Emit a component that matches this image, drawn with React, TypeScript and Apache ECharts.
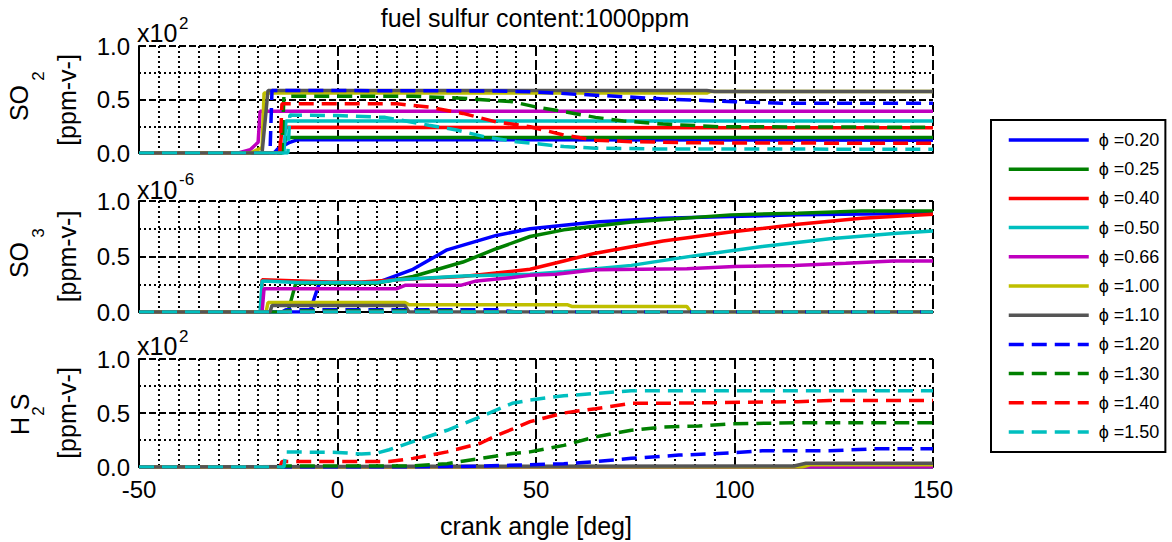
import React, { useEffect, useRef } from 'react';
import * as echarts from 'echarts';

const PHI_NAMES = ['ϕ =0.20', 'ϕ =0.25', 'ϕ =0.40', 'ϕ =0.50', 'ϕ =0.66', 'ϕ =1.00', 'ϕ =1.10', 'ϕ =1.20', 'ϕ =1.30', 'ϕ =1.40', 'ϕ =1.50'];
const X_RANGE = [-50, 150];
const X_STEP = 50;
const Y_RANGE = [0, 1];
const Y_STEP = 0.5;
const TITLE = 'fuel sulfur content:1000ppm';
const X_NAME = 'crank angle [deg]';

// ---- SO2 panel (x10^2 ppm-v) ----
const SO2_P020 = [[-50, 0], [-16, 0], [-15, 0.04], [-12, 0.1], [-10, 0.125], [150, 0.12]];
const SO2_P025 = [[-50, 0], [-14, 0], [-13, 0.145], [150, 0.145]];
const SO2_P040 = [[-50, 0], [-14.5, 0], [-14, 0.24], [150, 0.235]];
const SO2_P050 = [[-50, 0], [-13.5, 0], [-13, 0.3], [150, 0.3]];
const SO2_P066 = [[-50, 0], [-25, 0], [-22, 0.03], [-20, 0.1], [-19.5, 0.39], [150, 0.39]];
const SO2_P100 = [[-50, 0], [-22, 0], [-19, 0.05], [-18.5, 0.56], [93, 0.56], [94, 0.575], [150, 0.575]];
const SO2_P110 = [[-50, 0], [-19, 0], [-17.5, 0.585], [93, 0.585], [95, 0.575], [150, 0.575]];
const SO2_P120 = [[-50, 0], [-17, 0], [-16.5, 0.585], [40, 0.58], [50, 0.57], [60, 0.55], [70, 0.53], [85, 0.5], [100, 0.48], [112, 0.465], [150, 0.465]];
const SO2_P130 = [[-50, 0], [-14, 0], [-13.5, 0.53], [19, 0.53], [30, 0.515], [44, 0.48], [50, 0.43], [55, 0.4], [65, 0.333], [72, 0.3], [82, 0.27], [96, 0.246], [150, 0.24]];
const SO2_P140 = [[-50, 0], [-14.5, 0], [-14, 0.46], [15, 0.46], [23, 0.43], [31.6, 0.37], [40, 0.29], [48.5, 0.246], [57, 0.168], [65, 0.12], [74, 0.106], [90, 0.095], [150, 0.09]];
const SO2_P150 = [[-50, 0], [-12.5, 0], [-12, 0.355], [0, 0.35], [12, 0.333], [23, 0.26], [30, 0.215], [37, 0.152], [45, 0.106], [57, 0.06], [65, 0.045], [80, 0.038], [150, 0.035]];

// ---- SO3 panel (x10^-6 ppm-v) ----
const SO3_P020 = [[-50, 0], [-7, 0], [-4.5, 0.27], [0, 0.26], [10, 0.265], [19, 0.385], [27.6, 0.56], [40, 0.69], [48.5, 0.75], [65, 0.81], [82, 0.845], [99, 0.86], [116, 0.875], [150, 0.89]];
const SO3_P025 = [[-50, 0], [-12.5, 0], [-10.5, 0.26], [10, 0.26], [19, 0.32], [31.6, 0.45], [40, 0.57], [48.5, 0.68], [57, 0.74], [74, 0.81], [99, 0.875], [116, 0.89], [132, 0.91], [150, 0.91]];
const SO3_P040 = [[-50, 0], [-19.2, 0], [-19, 0.29], [-2, 0.27], [6, 0.27], [15, 0.29], [31.6, 0.32], [48.5, 0.385], [57, 0.46], [65, 0.53], [82, 0.64], [99, 0.72], [116, 0.79], [132, 0.845], [150, 0.88]];
const SO3_P050 = [[-50, 0], [-19.5, 0], [-19, 0.28], [-10, 0.265], [10, 0.265], [15, 0.29], [31.6, 0.325], [48.5, 0.34], [57, 0.363], [74, 0.42], [90.6, 0.51], [107, 0.59], [124, 0.66], [141, 0.71], [150, 0.73]];
const SO3_P066 = [[-50, 0], [-19, 0], [-18.5, 0.21], [15, 0.21], [17, 0.24], [31, 0.24], [35, 0.28], [44, 0.31], [48.5, 0.33], [55, 0.34], [65, 0.38], [88, 0.39], [100, 0.41], [115, 0.42], [128, 0.44], [140, 0.46], [150, 0.46]];
const SO3_P100 = [[-50, 0], [-18, 0], [-17.5, 0.085], [17, 0.085], [18, 0.065], [58, 0.065], [59, 0.05], [88, 0.05], [89, 0], [150, 0]];
const SO3_P110 = [[-50, 0], [-17, 0], [-16.5, 0.058], [17, 0.058], [18, 0], [150, 0]];
const SO3_P120 = [[-50, 0], [-14, 0], [-13, 0.02], [40, 0.02], [45, 0], [150, 0]];
const SO3_P130 = [[-50, 0], [-14, 0], [-13, 0.008], [30, 0.008], [35, 0], [150, 0]];
const SO3_P140 = [[-50, 0], [150, 0]];
const SO3_P150 = [[-50, 0], [150, 0]];

// ---- H2S panel (x10^2 ppm-v) ----
const H2S_P020 = [[-50, 0], [150, 0]];
const H2S_P025 = [[-50, 0], [150, 0]];
const H2S_P040 = [[-50, 0], [150, 0]];
const H2S_P050 = [[-50, 0], [150, 0]];
const H2S_P066 = [[-50, 0], [150, 0]];
const H2S_P100 = [[-50, 0], [117, 0], [119, 0.02], [150, 0.02]];
const H2S_P110 = [[-50, 0], [20, 0.006], [115, 0.01], [118, 0.035], [150, 0.035]];
const H2S_P120 = [[-50, 0], [19, 0], [31.6, 0.005], [48.5, 0.02], [57, 0.03], [65, 0.05], [74, 0.08], [86, 0.11], [99, 0.13], [107, 0.15], [124, 0.15], [136, 0.17], [150, 0.17]];
const H2S_P130 = [[-50, 0], [-14, 0], [-13, 0.01], [19, 0.01], [27.6, 0.03], [36, 0.08], [44, 0.125], [48.5, 0.14], [57, 0.2], [65, 0.28], [74, 0.34], [82, 0.37], [91, 0.38], [99, 0.4], [116, 0.41], [150, 0.41]];
const H2S_P140 = [[-50, 0], [-14.5, 0], [-14, 0.05], [13, 0.05], [19, 0.08], [27.6, 0.14], [36, 0.22], [40, 0.29], [44, 0.35], [48.5, 0.42], [57, 0.5], [65, 0.54], [74, 0.59], [82, 0.59], [116, 0.605], [124, 0.615], [150, 0.615]];
const H2S_P150 = [[-50, 0], [-13.5, 0], [-13, 0.14], [0, 0.135], [6, 0.12], [10, 0.13], [13, 0.16], [19, 0.235], [27.6, 0.34], [36, 0.465], [44, 0.59], [48.5, 0.62], [57, 0.66], [65, 0.68], [74, 0.706], [150, 0.706]];

const PANELS = [
  [SO2_P020, SO2_P025, SO2_P040, SO2_P050, SO2_P066, SO2_P100, SO2_P110, SO2_P120, SO2_P130, SO2_P140, SO2_P150],
  [SO3_P020, SO3_P025, SO3_P040, SO3_P050, SO3_P066, SO3_P100, SO3_P110, SO3_P120, SO3_P130, SO3_P140, SO3_P150],
  [H2S_P020, H2S_P025, H2S_P040, H2S_P050, H2S_P066, H2S_P100, H2S_P110, H2S_P120, H2S_P130, H2S_P140, H2S_P150],
];

// ---- styles / layout ----
const COLORS = ['#0000ff', '#008000', '#ff0000', '#00bfbf', '#bf00bf', '#bfbf00', '#555555', '#0000ff', '#008000', '#ff0000', '#00bfbf'];
const DASHED = [false, false, false, false, false, false, false, true, true, true, true];
const FONT = "'Liberation Sans', Arial, Helvetica, sans-serif";
const GRIDS = [
  { top: 46, height: 107 },
  { top: 201, height: 111 },
  { top: 359, height: 108 },
];
const PLOT_LEFT = 139;
const PLOT_WIDTH = 794;

export default function App() {
  const ref = useRef<HTMLDivElement>(null);

  useEffect(() => {
    if (!ref.current) return;
    const chart = echarts.init(ref.current, undefined, { renderer: 'svg' });

    const grid = GRIDS.map((g) => ({ left: PLOT_LEFT, width: PLOT_WIDTH, top: g.top, height: g.height, containLabel: false }));

    const xAxis = GRIDS.map((_, i) => ({
      type: 'value',
      gridIndex: i,
      min: X_RANGE[0],
      max: X_RANGE[1],
      interval: X_STEP,
      axisLine: { show: true, onZero: false, lineStyle: { color: '#000', width: 2 } },
      axisTick: { show: false },
      axisLabel: {
        show: i === GRIDS.length - 1,
        color: '#000',
        fontSize: 24,
        fontFamily: FONT,
        margin: 10,
      },
      splitLine: { show: true, lineStyle: { color: '#000', width: 2, type: [10, 4] } },
      minorTick: { show: false, splitNumber: 10 },
      minorSplitLine: { show: true, lineStyle: { color: '#000', width: 2, type: [2, 3] } },
      name: i === GRIDS.length - 1 ? X_NAME : '',
      nameLocation: 'middle',
      nameGap: 46,
      nameTextStyle: { color: '#000', fontSize: 25, fontFamily: FONT },
    }));

    const yAxis = GRIDS.map((_, i) => ({
      type: 'value',
      gridIndex: i,
      min: Y_RANGE[0],
      max: Y_RANGE[1],
      interval: Y_STEP,
      axisLine: { show: true, onZero: false, lineStyle: { color: '#000', width: 2 } },
      axisTick: { show: false },
      axisLabel: {
        color: '#000',
        fontSize: 24,
        fontFamily: FONT,
        margin: 9,
        formatter: (v: number) => v.toFixed(1),
      },
      splitLine: { show: true, lineStyle: { color: '#000', width: 2, type: [7, 3] } },
      minorTick: { show: false, splitNumber: 2 },
      minorSplitLine: { show: true, lineStyle: { color: '#000', width: 2, type: [2, 3] } },
    }));

    const series: any[] = [];
    PANELS.forEach((panel, p) => {
      panel.forEach((data, i) => {
        series.push({
          type: 'line',
          name: PHI_NAMES[i],
          xAxisIndex: p,
          yAxisIndex: p,
          data,
          symbol: 'none',
          showSymbol: false,
          clip: true,
          lineStyle: { color: COLORS[i], width: 3.5, type: DASHED[i] ? [15, 8] : 'solid' },
          itemStyle: { color: COLORS[i] },
          emphasis: { disabled: true },
        });
      });
    });

    const txt = (x: number, y: number, text: string, size: number, opts: any = {}) => ({
      type: 'text',
      x,
      y,
      rotation: opts.rotation || 0,
      style: {
        text,
        fill: '#000',
        font: `${size}px ${FONT}`,
        textAlign: opts.align || 'center',
        textVerticalAlign: 'middle',
      },
    });
    const R = Math.PI / 2;

    const graphic: any[] = [
      txt(535, 18, TITLE, 25),
      // panel 1 labels
      txt(137, GRIDS[0].top - 13.5, 'x10', 25, { align: 'left' }),
      txt(179, GRIDS[0].top - 23, '2', 17, { align: 'left' }),
      txt(19, 103, 'SO', 25, { rotation: R }),
      txt(38, 76, '2', 17, { rotation: R }),
      txt(67, 100, '[ppm-v-]', 25, { rotation: R }),
      // panel 2 labels
      txt(137, GRIDS[1].top - 11.5, 'x10', 25, { align: 'left' }),
      txt(179, GRIDS[1].top - 22, '-6', 17, { align: 'left' }),
      txt(19, 260, 'SO', 25, { rotation: R }),
      txt(38, 233, '3', 17, { rotation: R }),
      txt(67, 256.5, '[ppm-v-]', 25, { rotation: R }),
      // panel 3 labels
      txt(137, GRIDS[2].top - 13.5, 'x10', 25, { align: 'left' }),
      txt(179, GRIDS[2].top - 23, '2', 17, { align: 'left' }),
      txt(20, 426, 'H', 25, { rotation: R }),
      txt(38, 411, '2', 17, { rotation: R }),
      txt(20, 402, 'S', 25, { rotation: R }),
      txt(67, 413, '[ppm-v-]', 25, { rotation: R }),
    ];

    chart.setOption({
      animation: false,
      backgroundColor: '#fff',
      grid,
      xAxis,
      yAxis,
      series,
      graphic,
      legend: {
        data: PHI_NAMES,
        orient: 'vertical',
        left: 991,
        top: 120,
        itemWidth: 80,
        itemHeight: 14,
        itemGap: 11.2,
        padding: [11, 6, 11, 16],
        borderColor: '#000',
        borderWidth: 2,
        backgroundColor: '#fff',
        selectedMode: false,
        itemStyle: { opacity: 0 },
        lineStyle: { width: 3.5 },
        textStyle: { color: '#000', fontSize: 18, fontFamily: FONT, lineHeight: 18, padding: [0, 0, 0, 5] },
      },
    });

    return () => chart.dispose();
  }, []);

  return <div ref={ref} style={{ width: 1172, height: 542, position: 'absolute', left: 0, top: 0 }} />;
}
